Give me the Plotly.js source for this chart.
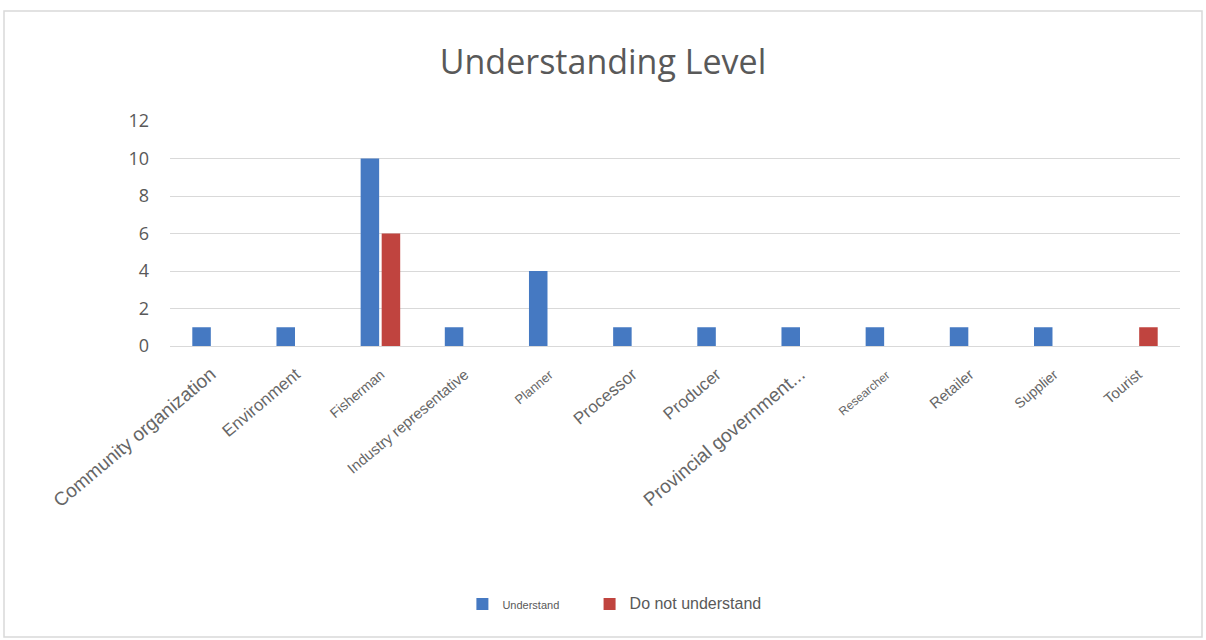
<!DOCTYPE html>
<html>
<head>
<meta charset="utf-8">
<script src="https://cdn.plot.ly/plotly-3.0.1.min.js"></script>
<style>
html,body{margin:0;padding:0;background:#fff;}
#chart{width:1206px;height:640px;}
</style>
</head>
<body>
<div id="chart"></div>
<script>
const categories = ["Community organization","Environment","Fisherman","Industry representative","Planner","Processor","Producer","Provincial government...","Researcher","Retailer","Supplier","Tourist"];
const labelSizes = [19,17,14,15,13,17,17,19,12,15,14,15];
const understand = [1,1,10,1,4,1,1,1,1,1,1,0];
const notUnderstand = [0,0,6,0,0,0,0,0,0,0,0,1];
const yTicks = [0,2,4,6,8,10,12];
const seriesNames = ["Understand","Do not understand"];

const L = 170, R = 26, T = 121, B = 294;
const pw = 1206 - L - R, ph = 640 - T - B;
const px = v => (v - L) / pw;
const py = v => (640 - B - v) / ph;

const traces = [
  {type:'bar', name:'<span style="font-size:11px">' + seriesNames[0] + '</span>&nbsp;&nbsp;&nbsp;&nbsp;&nbsp;&nbsp;&nbsp;', x:categories, y:understand, marker:{color:'#4579c2'}},
  {type:'bar', name:'<span style="font-size:16px">' + seriesNames[1] + '</span>', x:categories, y:notUnderstand, marker:{color:'#c0443f'}}
];

const layout = {
  width:1206, height:640,
  margin:{l:L, r:R, t:T, b:B},
  paper_bgcolor:'#ffffff', plot_bgcolor:'#ffffff',
  title:{text:'Understanding Level', x:0.5, xanchor:'center', y:1-62/640, yanchor:'middle',
         font:{family:'Open Sans, Liberation Sans, sans-serif', size:34, color:'#595959'}},
  barmode:'group', bargap:0.5, bargroupgap:0.12,
  showlegend:true,
  legend:{orientation:'h', x:0.44, xanchor:'center', y:py(604), yanchor:'middle',
          font:{family:'Liberation Sans, Arial, sans-serif', size:13, color:'#595959'}},
  xaxis:{type:'category', tickangle:-40, showgrid:false, showline:true, linecolor:'#d9d9d9', linewidth:1,
         ticks:'', ticklabelstandoff:12,
         tickvals:categories,
         ticktext:categories.map((c,i)=>'<span style="font-size:'+labelSizes[i]+'px">'+c+'</span>'),
         tickfont:{family:'Liberation Sans, Arial, sans-serif', size:16, color:'#666666'}},
  yaxis:{range:[0,12], tickvals:yTicks, ticktext:yTicks.map(String), showgrid:true, gridcolor:'#d9d9d9', gridwidth:1,
         zeroline:false, showline:false, ticks:'', ticklabelstandoff:20,
         tickfont:{family:'Open Sans, Liberation Sans, sans-serif', size:18, color:'#595959'}},
  shapes:[
    {type:'rect', xref:'paper', yref:'paper', x0:px(4), x1:px(1202), y0:py(637), y1:py(11),
     line:{color:'#d9d9d9', width:1.5}, fillcolor:'rgba(0,0,0,0)', layer:'below'}
  ]
};

Plotly.newPlot('chart', traces, layout, {displayModeBar:false, staticPlot:true});
</script>
</body>
</html>
